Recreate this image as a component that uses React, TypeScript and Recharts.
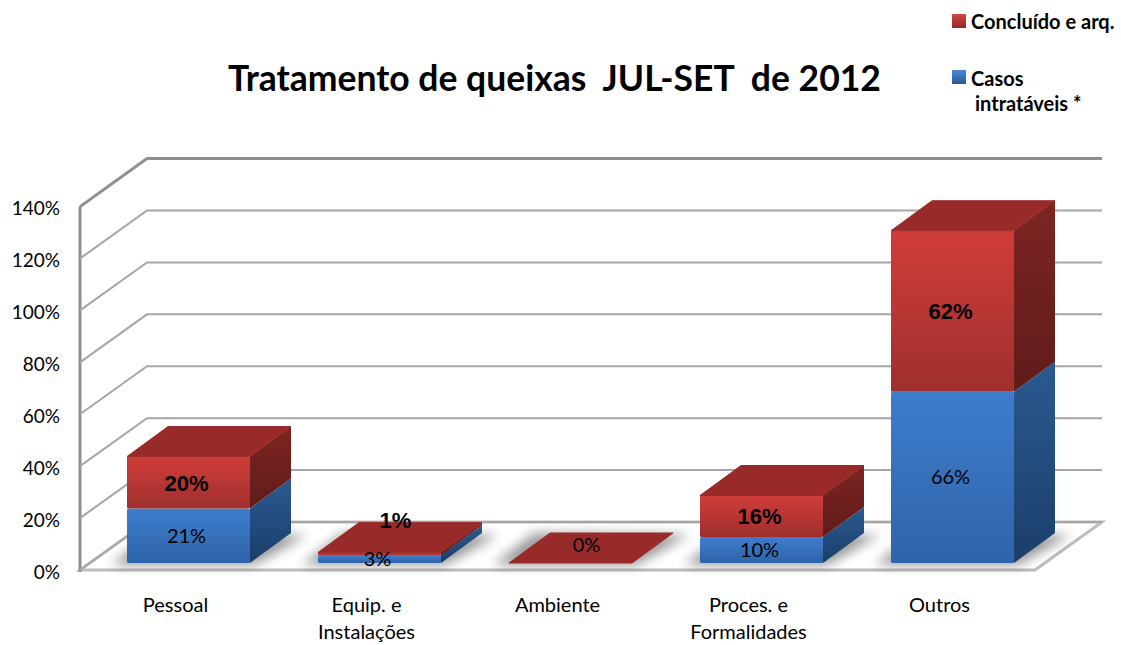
import { BarChart, Bar, XAxis, YAxis, CartesianGrid, LabelList, Legend } from "recharts";

const categories = ["Pessoal", "Equip. e|Instalações", "Ambiente", "Proces. e|Formalidades", "Outros"];
const intrataveis = [21, 3, 0, 10, 66];
const concluido = [20, 1, 0, 16, 62];
const yTicks = [0, 20, 40, 60, 80, 100, 120, 140];

const data = categories.map((name, i) => ({
  name,
  intrataveis: intrataveis[i],
  concluido: concluido[i],
}));

const uiFont = "Lato, 'Open Sans', sans-serif";
const labelFont = "'Liberation Sans', Arial, sans-serif";

// depth of the fake 3D box, and where walls and floor sit around the bar plane
const DEPTH_X = 41;
const DEPTH_Y = 30;
const FRONT_DX = -13;
const FRONT_DY = 7;
const BACK_DX = 54;
const BACK_DY = -41;

const pts = (list: number[][]) => list.map((p) => p.join(",")).join(" ");

function GridLine(props: any) {
  const { x1, x2, y1, y, height, index } = props;
  const isFloor = y1 >= y + height - 0.5;
  const isTop = y1 <= y + 0.5;
  const fx = x1 + FRONT_DX;
  const fy = y1 + FRONT_DY;
  const bx1 = x1 + BACK_DX;
  const bx2 = x2 + BACK_DX;
  const by = y1 + BACK_DY;
  return (
    <g key={`grid-${index}`}>
      {isFloor && (
        <>
          <polygon
            points={pts([[fx, fy], [x2 + FRONT_DX, fy], [bx2, by], [bx1, by]])}
            fill="#ffffff"
            stroke="#bdbdbd"
            strokeWidth={3}
          />
          <line x1={fx} y1={y + FRONT_DY} x2={fx} y2={fy + 2} stroke="#8f8f8f" strokeWidth={3} />
        </>
      )}
      <polyline
        points={pts([[fx, fy], [bx1, by], [bx2, by]])}
        fill="none"
        stroke={isTop ? "#8f8f8f" : "#a6a6a6"}
        strokeWidth={isTop ? 3 : 2}
      />
    </g>
  );
}

function YTick({ x, y, payload }: any) {
  return (
    <text x={x - 25} y={y + FRONT_DY + 8.5} textAnchor="end" fontFamily={uiFont} fontSize={19} fill="#000">
      {payload.value}%
    </text>
  );
}

function XTick({ x, y, payload }: any) {
  const lines = String(payload.value).split("|");
  return (
    <text x={x + FRONT_DX} y={y} textAnchor="middle" fontFamily={uiFont} fontSize={20} fill="#000">
      {lines.map((line, i) => (
        <tspan key={line} x={x + FRONT_DX} y={y + 41 + i * 27}>
          {line}
        </tspan>
      ))}
    </text>
  );
}

function Box({ x, y, width, height, front, side, withTop, withShadow }: any) {
  const r = x + width;
  const b = y + height;
  return (
    <g>
      {withShadow && (
        <polygon
          points={pts([[x - 16, b + 2], [r + 4, b + 2], [r + DEPTH_X + 16, b - DEPTH_Y + 2], [x + DEPTH_X - 16, b - DEPTH_Y]])}
          fill="#000"
          opacity={0.4}
          filter="url(#floorShadow)"
        />
      )}
      {height > 0 && (
        <>
          <rect x={x} y={y} width={width} height={height} rx={1.5} fill={`url(#${front})`} />
          <polygon
            points={pts([[r, y], [r + DEPTH_X, y - DEPTH_Y], [r + DEPTH_X, b - DEPTH_Y], [r, b]])}
            fill={`url(#${side})`}
          />
        </>
      )}
      {withTop && (
        <polygon
          points={pts([[x, y], [r, y], [r + DEPTH_X, y - DEPTH_Y], [x + DEPTH_X, y - DEPTH_Y]])}
          fill="#982b29"
          stroke="#982b29"
          strokeWidth={1}
          strokeLinejoin="round"
        />
      )}
    </g>
  );
}

function BlueLabel({ x, y, width, height, value }: any) {
  if (!value) return null;
  return (
    <text x={x + width / 2 - 2} y={y + height / 2 + 7} textAnchor="middle" fontFamily={uiFont} fontSize={20} fill="#000">
      {value}%
    </text>
  );
}

function RedLabel({ x, y, width, height, value }: any) {
  // thin segments have their label sitting on the top face
  const cx = x + width / 2;
  if (value === 0) {
    return (
      <text x={cx + 16} y={y - 11} textAnchor="middle" fontFamily={uiFont} fontSize={20} fill="#000">
        0%
      </text>
    );
  }
  const flat = height < 10;
  return (
    <text
      x={flat ? cx + 16 : cx - 2}
      y={flat ? y - 25 : y + height / 2 + 8}
      textAnchor="middle"
      fontFamily={labelFont}
      fontWeight="bold"
      fontSize={22}
      fill="#000"
    >
      {value}%
    </text>
  );
}

function LegendBox({ payload }: any) {
  const text = { position: "absolute", fontFamily: uiFont, fontWeight: 700, fontSize: 20, color: "#000", whiteSpace: "nowrap", lineHeight: "24px" } as const;
  const swatch = { position: "absolute", left: 952, width: 14, height: 14 } as const;
  const [blue, red] = payload ?? [];
  return (
    <div style={{ position: "relative", width: 1121, height: 0 }}>
      <span style={{ ...swatch, top: 14, background: "linear-gradient(#d04a48 0%, #b53634 50%, #8e2a28 100%)" }} />
      <span style={{ ...text, left: 971, top: 9 }}>{red?.value}</span>
      <span style={{ ...swatch, top: 70, background: "linear-gradient(#4a88d6 0%, #3a74bd 50%, #2c5584 100%)" }} />
      <span style={{ ...text, left: 971, top: 66 }}>{String(blue?.value).split(" ")[0]}</span>
      <span style={{ ...text, left: 975, top: 91 }}>{String(blue?.value).split(" ").slice(1).join(" ")}</span>
    </div>
  );
}

export default function App() {
  return (
    <div style={{ position: "absolute", left: 0, top: 0, width: 1121, height: 645, background: "#fff" }}>
      <BarChart
        width={1121}
        height={645}
        data={data}
        barSize={123}
        margin={{ top: 199.6, right: 73, bottom: 0, left: 0 }}
      >
        <defs>
          <linearGradient id="blueFront" x1="0" y1="0" x2="0" y2="1">
            <stop offset="0%" stopColor="#3e7dcd" />
            <stop offset="100%" stopColor="#2e64a9" />
          </linearGradient>
          <linearGradient id="blueSide" x1="0" y1="0" x2="0" y2="1">
            <stop offset="0%" stopColor="#2a5a92" />
            <stop offset="100%" stopColor="#1b3e6a" />
          </linearGradient>
          <linearGradient id="redFront" x1="0" y1="0" x2="0" y2="1">
            <stop offset="0%" stopColor="#d03d3a" />
            <stop offset="100%" stopColor="#9f2f2d" />
          </linearGradient>
          <linearGradient id="redSide" x1="0" y1="0" x2="0" y2="1">
            <stop offset="0%" stopColor="#7d2522" />
            <stop offset="100%" stopColor="#5f1c1a" />
          </linearGradient>
          <filter id="floorShadow" x="-30%" y="-60%" width="160%" height="220%">
            <feGaussianBlur stdDeviation="6" />
          </filter>
        </defs>
        <text x={554.5} y={91} textAnchor="middle" fontFamily={uiFont} fontWeight={700} fontSize={35.5} fill="#000" xmlSpace="preserve">
          Tratamento de queixas  JUL-SET  de 2012
        </text>
        <CartesianGrid vertical={false} horizontal={GridLine as any} />
        <XAxis dataKey="name" height={82} axisLine={false} tickLine={false} interval={0} tick={XTick as any} />
        <YAxis width={93} domain={[0, 140]} ticks={yTicks} axisLine={false} tickLine={false} tick={YTick as any} />
        <Legend layout="vertical" align="center" verticalAlign="middle" wrapperStyle={{ left: 0, top: 0, width: 1121, height: 0 }} content={LegendBox as any} />
        <Bar
          dataKey="intrataveis"
          name="Casos intratáveis *"
          stackId="a"
          fill="#3e7dcd"
          isAnimationActive={false}
          shape={(p: any) => <Box {...p} front="blueFront" side="blueSide" withShadow />}
        >
          <LabelList dataKey="intrataveis" content={BlueLabel as any} />
        </Bar>
        <Bar
          dataKey="concluido"
          name="Concluído e arq."
          stackId="a"
          fill="#d03d3a"
          isAnimationActive={false}
          shape={(p: any) => <Box {...p} front="redFront" side="redSide" withTop />}
        >
          <LabelList dataKey="concluido" content={RedLabel as any} />
        </Bar>
      </BarChart>
    </div>
  );
}
